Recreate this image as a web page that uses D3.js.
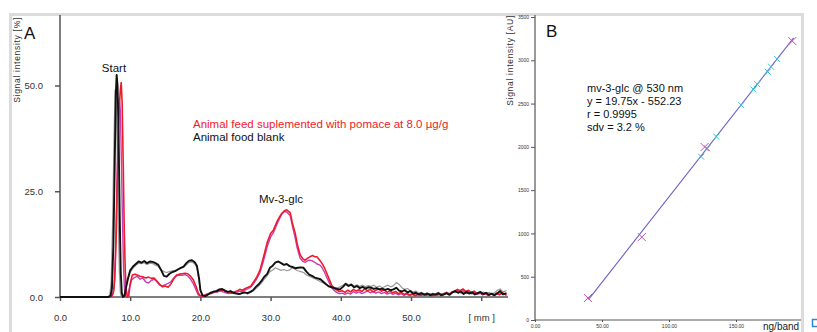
<!DOCTYPE html>
<html>
<head>
<meta charset="utf-8">
<script src="https://cdn.jsdelivr.net/npm/d3@7"></script>
<style>
  body { margin: 0; background: #fff; }
  svg { display: block; font-family: 'Liberation Sans', Arial, sans-serif; }
</style>
</head>
<body>
<svg id="chart"></svg>
<script>
const width = 817, height = 332;

// Panel A: densitogram tracks, [mm, signal %]
const blankTrack = [[0,0],[6.9,0],[7.2,0.3],[7.4,2],[7.6,12],[7.8,32],[7.95,48],[8.07,52.5],[8.2,50],[8.35,38],[8.5,20],[8.65,6],[8.8,1],[8.95,0],[9.2,0.3],[9.4,2.2],[9.7,4.5],[10.0,6.3],[10.4,7.2],[10.8,7.8],[11.2,8.4],[11.6,8.1],[12.0,8.5],[12.4,8.0],[12.8,8.4],[13.2,8.3],[13.6,8.0],[14.0,7.6],[14.4,6.4],[14.8,5.0],[15.2,4.8],[15.6,5.5],[16.0,5.9],[16.4,6.1],[16.8,6.5],[17.2,6.9],[17.6,7.2],[18.0,8.0],[18.4,8.6],[18.8,8.7],[19.2,8.2],[19.5,7.4],[19.8,4.5],[20.0,1.6],[20.3,0.4],[20.7,0.2],[21.1,0.6],[21.5,1.0],[21.9,1.3],[22.3,1.4],[22.7,1.8],[23.1,1.9],[23.5,1.5],[23.9,1.2],[24.3,1.4],[24.7,1.0],[25.1,0.8],[25.5,0.7],[25.9,0.9],[26.3,1.1],[26.7,0.9],[27.1,1.2],[27.5,1.6],[27.9,2.4],[28.3,3.0],[28.7,3.8],[29.1,4.8],[29.5,5.4],[29.9,6.9],[30.3,7.4],[30.7,8.2],[31.1,8.4],[31.5,8.0],[31.9,7.6],[32.3,7.8],[32.7,7.3],[33.1,7.1],[33.5,6.8],[33.9,6.9],[34.3,7.0],[34.7,6.9],[35.1,6.0],[35.5,5.3],[35.9,5.0],[36.3,4.6],[36.7,4.4],[37.1,4.2],[37.5,3.6],[37.9,3.0],[38.3,2.5],[38.7,2.3],[39.1,2.1],[39.5,1.9],[39.9,1.8],[40.3,2.4],[40.7,3.1],[41.1,2.6],[41.5,2.9],[41.9,2.3],[42.3,2.6],[42.7,2.1],[43.1,2.4],[43.5,2.0],[43.9,2.3],[44.3,2.2],[44.7,1.9],[45.1,2.1],[45.5,1.8],[45.9,2.0],[46.3,1.7],[46.7,1.9],[47.1,1.6],[47.5,1.8],[47.9,2.2],[48.3,1.5],[48.7,1.3],[49.1,1.6],[49.5,1.1],[49.9,1.4],[50.3,0.8],[50.7,1.0],[51.1,0.6],[51.5,0.9],[51.9,0.5],[52.3,0.8],[52.7,0.4],[53.1,0.7],[53.5,0.5],[53.9,0.9],[54.3,0.4],[54.7,0.6],[55.1,0.9],[55.5,0.5],[55.9,1.1],[56.3,1.4],[56.7,1.0],[57.1,1.3],[57.5,0.7],[57.9,1.2],[58.3,0.8],[58.7,1.1],[59.1,0.6],[59.5,0.9],[59.9,1.2],[60.3,0.7],[60.7,1.0],[61.1,0.5],[61.5,0.8],[61.9,0.4],[62.3,0.9],[62.7,1.4],[63.1,0.6],[63.6,0.9]];

const blankTrack2 = [[0,0],[6.8,0],[7.1,0.5],[7.3,4],[7.5,18],[7.7,38],[7.85,49],[8.0,47],[8.15,35],[8.3,18],[8.45,6],[8.6,1],[8.75,0],[9.0,0],[9.3,1.5],[9.6,3.8],[10.0,5.8],[10.4,6.8],[10.8,7.5],[11.2,8.0],[11.6,7.9],[12.0,8.1],[12.4,7.7],[12.8,8.0],[13.2,7.9],[13.6,7.5],[14.0,7.2],[14.4,6.4],[14.8,6.0],[15.2,5.8],[15.6,6.0],[16.0,6.2],[16.4,6.3],[16.8,6.6],[17.2,6.8],[17.6,7.0],[18.0,7.6],[18.4,8.2],[18.8,8.3],[19.2,7.8],[19.5,6.9],[19.8,4.0],[20.0,1.4],[20.3,0.3],[20.7,0.4],[21.1,0.8],[21.5,1.2],[21.9,1.0],[22.3,1.6],[22.7,1.5],[23.1,1.7],[23.5,1.3],[23.9,1.0],[24.3,1.2],[24.7,0.8],[25.1,1.0],[25.5,0.6],[25.9,0.8],[26.3,1.0],[26.7,0.7],[27.1,1.0],[27.5,1.4],[27.9,2.0],[28.3,2.6],[28.7,3.3],[29.1,4.2],[29.5,5.0],[29.9,6.0],[30.3,6.4],[30.7,6.9],[31.1,6.6],[31.5,6.3],[31.9,6.5],[32.3,6.2],[32.7,6.4],[33.1,6.9],[33.5,6.5],[33.9,6.2],[34.3,6.0],[34.7,5.8],[35.1,5.2],[35.5,4.9],[35.9,4.6],[36.3,4.3],[36.7,4.0],[37.1,3.6],[37.5,3.3],[37.9,3.0],[38.3,2.6],[38.7,2.4],[39.1,2.3],[39.5,2.1],[39.9,2.4],[40.3,2.8],[40.7,3.3],[41.1,2.9],[41.5,3.1],[41.9,2.6],[42.3,2.9],[42.7,2.5],[43.1,2.8],[43.5,2.4],[43.9,2.7],[44.3,2.5],[44.7,2.8],[45.1,2.3],[45.5,2.6],[45.9,2.2],[46.3,2.5],[46.7,2.8],[47.1,2.4],[47.5,2.7],[47.9,3.4],[48.3,3.0],[48.7,2.2],[49.1,1.8],[49.5,2.0],[49.9,1.5],[50.3,1.2],[50.7,1.4],[51.1,0.9],[51.5,1.1],[51.9,0.7],[52.3,1.0],[52.7,0.6],[53.1,0.9],[53.5,0.7],[53.9,1.1],[54.3,0.6],[54.7,0.9],[55.1,1.2],[55.5,0.8],[55.9,1.3],[56.3,1.0],[56.7,1.4],[57.1,0.9],[57.5,1.2],[57.9,0.8],[58.3,1.1],[58.7,0.7],[59.1,1.0],[59.5,0.6],[59.9,0.9],[60.3,1.2],[60.7,0.8],[61.1,1.1],[61.5,0.7],[61.9,1.0],[62.3,1.6],[62.7,1.9],[63.1,1.2],[63.6,1.5]];

const pomaceTrack = [[0,0],[7.3,0],[7.6,1],[7.8,4],[8.0,14],[8.2,30],[8.4,44],[8.6,49],[8.72,50.7],[8.85,46],[9.0,32],[9.15,16],[9.3,6],[9.45,1.5],[9.6,0],[9.8,0.3],[10.0,3.2],[10.3,5.2],[10.7,5.4],[11.0,5.2],[11.4,4.9],[11.8,4.8],[12.2,4.5],[12.6,4.7],[13.0,4.4],[13.4,4.5],[13.8,3.8],[14.2,3.0],[14.6,2.4],[15.0,2.6],[15.4,2.3],[15.8,3.1],[16.2,4.3],[16.6,5.2],[17.0,5.4],[17.4,5.5],[17.8,5.6],[18.2,5.5],[18.6,4.9],[19.0,4.0],[19.4,2.4],[19.7,0.9],[20.0,0.3],[20.4,0.2],[20.8,0.5],[21.2,0.7],[21.6,0.9],[22.0,1.2],[22.4,1.5],[22.8,1.4],[23.2,1.7],[23.6,1.3],[24.0,1.1],[24.4,0.9],[24.8,1.2],[25.2,1.4],[25.6,1.8],[26.0,1.6],[26.4,2.0],[26.8,2.3],[27.2,2.6],[27.6,3.6],[28.0,4.6],[28.5,6.4],[29.0,9.5],[29.5,12.8],[30.0,15.0],[30.4,15.8],[30.9,17.8],[31.3,19.0],[31.6,19.8],[32.0,20.4],[32.3,20.6],[32.8,19.9],[33.1,17.5],[33.5,15.1],[33.8,12.5],[34.2,10.0],[34.6,9.0],[34.9,8.7],[35.3,9.2],[35.6,9.5],[36.0,9.8],[36.3,9.5],[36.6,9.5],[37.0,8.7],[37.3,8.0],[37.7,6.8],[38.0,5.6],[38.4,4.0],[38.7,2.8],[39.1,2.0],[39.4,1.7],[39.8,1.3],[40.2,1.5],[40.6,1.1],[41.0,1.6],[41.4,1.2],[41.8,1.8],[42.2,1.4],[42.6,1.7],[43.0,1.3],[43.4,1.9],[43.8,1.5],[44.2,1.8],[44.6,1.2],[45.0,1.6],[45.4,2.0],[45.8,1.4],[46.2,1.7],[46.6,1.1],[47.0,1.5],[47.4,1.0],[47.8,1.3],[48.2,0.8],[48.6,1.1],[49.0,0.6],[49.4,0.9],[49.8,0.5],[50.2,0.7],[50.6,0.3],[51.0,0.6],[51.4,0.4],[51.8,0.8],[52.2,0.5],[52.6,0.7],[53.0,0.3],[53.4,0.6],[53.8,0.9],[54.2,0.5],[54.6,0.7],[55.0,1.0],[55.4,0.6],[55.8,1.1],[56.2,1.4],[56.6,1.8],[57.0,1.5],[57.4,1.9],[57.8,1.3],[58.2,1.6],[58.6,1.0],[59.0,1.4],[59.4,0.8],[59.8,1.1],[60.2,0.6],[60.6,0.9],[61.0,0.4],[61.4,0.8],[61.8,0.5],[62.2,0.9],[62.6,0.6],[63.0,1.0],[63.6,0.5]];

const pomaceTrack2 = [[0,0],[7.4,0],[7.7,2],[7.9,10],[8.1,26],[8.3,40],[8.45,47],[8.6,44],[8.75,32],[8.9,18],[9.05,7],[9.2,1.5],[9.35,0],[9.6,0],[9.9,2.2],[10.2,4.0],[10.6,4.6],[11.0,4.9],[11.4,4.2],[11.8,4.5],[12.2,3.6],[12.6,3.3],[13.0,3.9],[13.4,4.2],[13.8,3.6],[14.2,2.8],[14.6,2.6],[15.0,2.9],[15.4,3.2],[15.8,3.6],[16.2,4.5],[16.6,5.0],[17.0,5.2],[17.4,5.1],[17.8,5.3],[18.2,5.0],[18.6,4.2],[19.0,3.1],[19.4,1.6],[19.7,0.5],[20.0,0.2],[20.4,0.3],[20.8,0.6],[21.2,0.8],[21.6,1.1],[22.0,1.3],[22.4,1.1],[22.8,1.6],[23.2,1.2],[23.6,1.0],[24.0,0.8],[24.4,1.0],[24.8,0.9],[25.2,1.1],[25.6,1.4],[26.0,1.3],[26.4,1.7],[26.8,2.0],[27.2,2.4],[27.6,3.2],[28.0,4.2],[28.5,5.8],[29.0,8.6],[29.5,11.8],[30.0,14.2],[30.4,15.2],[30.9,17.2],[31.3,18.6],[31.6,19.6],[32.0,20.2],[32.3,20.1],[32.8,19.2],[33.1,16.8],[33.5,14.0],[33.8,11.5],[34.2,9.2],[34.6,8.4],[34.9,8.2],[35.3,8.6],[35.6,8.7],[36.0,8.5],[36.3,8.2],[36.6,7.8],[37.0,7.6],[37.3,7.0],[37.7,5.8],[38.0,4.6],[38.4,3.2],[38.7,2.2],[39.1,1.5],[39.4,1.1],[39.8,0.8],[40.2,0.9],[40.6,0.6],[41.0,1.0],[41.4,0.7],[41.8,1.3],[42.2,0.9],[42.6,1.2],[43.0,0.8],[43.4,1.1],[43.8,1.4],[44.2,1.0],[44.6,1.3],[45.0,0.9],[45.4,1.2],[45.8,0.8],[46.2,1.1],[46.6,0.7],[47.0,1.0],[47.4,0.6],[47.8,0.9],[48.2,0.5],[48.6,0.8],[49.0,0.4],[49.4,0.7],[49.8,0.3],[50.2,0.6],[50.6,0.4],[51.0,0.7],[51.4,0.3],[51.8,0.6],[52.2,0.4],[52.6,0.8],[53.0,0.5],[53.4,0.7],[53.8,0.4],[54.2,0.8],[54.6,0.5],[55.0,0.9],[55.4,0.6],[55.8,1.0],[56.2,1.3],[56.6,1.6],[57.0,1.2],[57.4,1.5],[57.8,1.0],[58.2,1.3],[58.6,0.8],[59.0,1.1],[59.4,0.7],[59.8,0.9],[60.2,0.5],[60.6,0.8],[61.0,0.4],[61.4,0.7],[61.8,0.4],[62.2,0.8],[62.6,0.5],[63.0,0.9],[63.6,0.4]];

const xTicksA = [0, 10, 20, 30, 40, 50, 60];
const xTickLabelsA = ['0.0', '10.0', '20.0', '30.0', '40.0', '50.0', '[ mm ]'];
const yTicksA = [0, 25, 50];

// Panel B: calibration, [ng/band, AU]
const standards = [[39.5, 254], [79.7, 958], [126.6, 1998], [192, 3222]];
const samples = [[124, 1886], [128.6, 1983], [135.3, 2117], [153.9, 2483], [163, 2664], [165.8, 2725], [173.7, 2867], [176.2, 2925], [180.7, 3014]];
const slope = 19.75, intercept = -552.23;
const fitRange = [40, 193];
const statsLines = ['mv-3-glc @ 530 nm', 'y = 19.75x - 552.23', 'r = 0.9995', 'sdv = 3.2 %'];
const yTicksB = [0, 500, 1000, 1500, 2000, 2500, 3000, 3500];
const xTicksB = [0, 50, 100, 150];

const svg = d3.select('#chart').attr('width', width).attr('height', height);

// Outer frame (light grey)
svg.append('path')
  .attr('d', `M10.5,${height} V14.5 H802.5 V${height}`)
  .attr('fill', 'none')
  .attr('stroke', '#dcdcdc')
  .attr('stroke-width', 3);

// ---------- Panel A ----------
const xA = d3.scaleLinear().domain([0, 60]).range([60, 481.2]);
const yA = d3.scaleLinear().domain([0, 50]).range([297, 85.5]);

const gA = svg.append('g');

const xAxisA = gA.append('g')
  .attr('transform', `translate(0,${yA(0)})`)
  .call(d3.axisBottom(xA).tickValues(xTicksA).tickSize(4).tickPadding(13)
    .tickFormat((d, i) => xTickLabelsA[i]));
xAxisA.select('.domain').remove();

const yAxisA = gA.append('g')
  .attr('transform', `translate(${xA(0)},0)`)
  .call(d3.axisLeft(yA).tickValues(yTicksA).tickSize(5).tickPadding(12)
    .tickFormat(d3.format('.1f')));
yAxisA.select('.domain').remove();

gA.selectAll('.tick line').attr('stroke', '#555').attr('stroke-width', 1.5);
gA.selectAll('.tick text').attr('font-size', 9.5).attr('fill', '#333')
  .attr('font-family', "'Liberation Sans', Arial, sans-serif");

gA.append('line')
  .attr('x1', xA(0)).attr('x2', 508).attr('y1', yA(0)).attr('y2', yA(0))
  .attr('stroke', '#555').attr('stroke-width', 1.5);
gA.append('line')
  .attr('x1', xA(0)).attr('x2', xA(0)).attr('y1', yA(0)).attr('y2', 15)
  .attr('stroke', '#555').attr('stroke-width', 1.5);

const lineA = d3.line().x(d => xA(d[0])).y(d => yA(d[1]));

const tracks = [
  { data: blankTrack2, color: '#9a9a9a', w: 1.2 },
  { data: pomaceTrack2, color: '#c63fb6', w: 1.4 },
  { data: pomaceTrack, color: '#ee1c2a', w: 1.6 },
  { data: blankTrack, color: '#111', w: 1.9 }
];
gA.selectAll('.track')
  .data(tracks)
  .enter()
  .append('path')
  .attr('class', 'track')
  .attr('d', d => lineA(d.data))
  .attr('fill', 'none')
  .attr('stroke', d => d.color)
  .attr('stroke-width', d => d.w)
  .attr('stroke-linejoin', 'round');

gA.append('text')
  .attr('transform', 'translate(20,17) rotate(-90)')
  .attr('text-anchor', 'end')
  .attr('font-size', 8.5)
  .attr('letter-spacing', 0.7)
  .attr('fill', '#333')
  .text('Signal intensity [%]');

gA.append('text').attr('x', 24).attr('y', 39).attr('font-size', 17).attr('fill', '#111').text('A');

gA.append('text').attr('x', 114).attr('y', 72).attr('text-anchor', 'middle')
  .attr('font-size', 11.5).attr('fill', '#111').text('Start');
gA.append('text').attr('x', 281).attr('y', 203).attr('text-anchor', 'middle')
  .attr('font-size', 11.5).attr('fill', '#111').text('Mv-3-glc');

gA.append('text').attr('x', 193).attr('y', 128)
  .attr('font-size', 11.5).attr('fill', '#ee1c2a')
  .text('Animal feed suplemented with pomace at 8.0 µg/g');
gA.append('text').attr('x', 193).attr('y', 141)
  .attr('font-size', 11.5).attr('fill', '#111')
  .text('Animal food blank');

// ---------- Panel B ----------
const xB = d3.scaleLinear().domain([0, 150]).range([535, 736]);
const yB = d3.scaleLinear().domain([0, 3500]).range([320, 17]);

const gB = svg.append('g');

const yAxisB = gB.append('g')
  .attr('transform', `translate(${xB(0)},0)`)
  .call(d3.axisLeft(yB).tickValues(yTicksB).tickSize(4).tickPadding(2)
    .tickFormat(d3.format('d')));
yAxisB.select('.domain').remove();

const xAxisB = gB.append('g')
  .attr('transform', `translate(0,${yB(0)})`)
  .call(d3.axisBottom(xB).tickValues(xTicksB).tickSize(2).tickPadding(2)
    .tickFormat(d3.format('.2f')));
xAxisB.select('.domain').remove();

gB.selectAll('.tick line').attr('stroke', '#555');
gB.selectAll('.tick text').attr('font-size', 5).attr('fill', '#333')
  .attr('font-family', "'Liberation Sans', Arial, sans-serif");

gB.append('line')
  .attr('x1', xB(0)).attr('x2', 801).attr('y1', yB(0)).attr('y2', yB(0))
  .attr('stroke', '#555').attr('stroke-width', 1.2);
gB.append('line')
  .attr('x1', xB(0)).attr('x2', xB(0)).attr('y1', yB(0)).attr('y2', 15)
  .attr('stroke', '#555').attr('stroke-width', 1.2);

gB.append('text')
  .attr('transform', 'translate(513,15) rotate(-90)')
  .attr('text-anchor', 'end')
  .attr('font-size', 8.5)
  .attr('letter-spacing', 0.7)
  .attr('fill', '#333')
  .text('Signal intensity [AU]');

gB.append('text').attr('x', 546).attr('y', 37).attr('font-size', 17).attr('fill', '#111').text('B');

gB.append('text').attr('x', 763).attr('y', 330).attr('font-size', 10).attr('fill', '#222').text('ng/band');

// Regression line
gB.append('line')
  .attr('x1', xB(fitRange[0])).attr('y1', yB(slope * fitRange[0] + intercept))
  .attr('x2', xB(fitRange[1])).attr('y2', yB(slope * fitRange[1] + intercept))
  .attr('stroke', '#6b5fc9').attr('stroke-width', 1.1);

// X markers
const cross = (g, data, size, color) => {
  g.selectAll(null)
    .data(data)
    .enter()
    .append('path')
    .attr('d', d => {
      const x = xB(d[0]), y = yB(d[1]);
      return `M${x - size},${y - size}L${x + size},${y + size}M${x - size},${y + size}L${x + size},${y - size}`;
    })
    .attr('stroke', color)
    .attr('stroke-width', 1);
};
cross(gB, samples, 3, '#3cc3d6');
cross(gB, standards, 4, '#c64fb4');

gB.selectAll('.stat')
  .data(statsLines)
  .enter()
  .append('text')
  .attr('class', 'stat')
  .attr('x', 587)
  .attr('y', (_, i) => 92 + i * 13)
  .attr('font-size', 11)
  .attr('fill', '#111')
  .text(d => d);

// small blue icon at the edge
svg.append('rect')
  .attr('x', 812.5).attr('y', 319.5).attr('width', 7).attr('height', 7)
  .attr('fill', 'none').attr('stroke', '#2f86d6').attr('stroke-width', 1.5);
</script>
</body>
</html>
